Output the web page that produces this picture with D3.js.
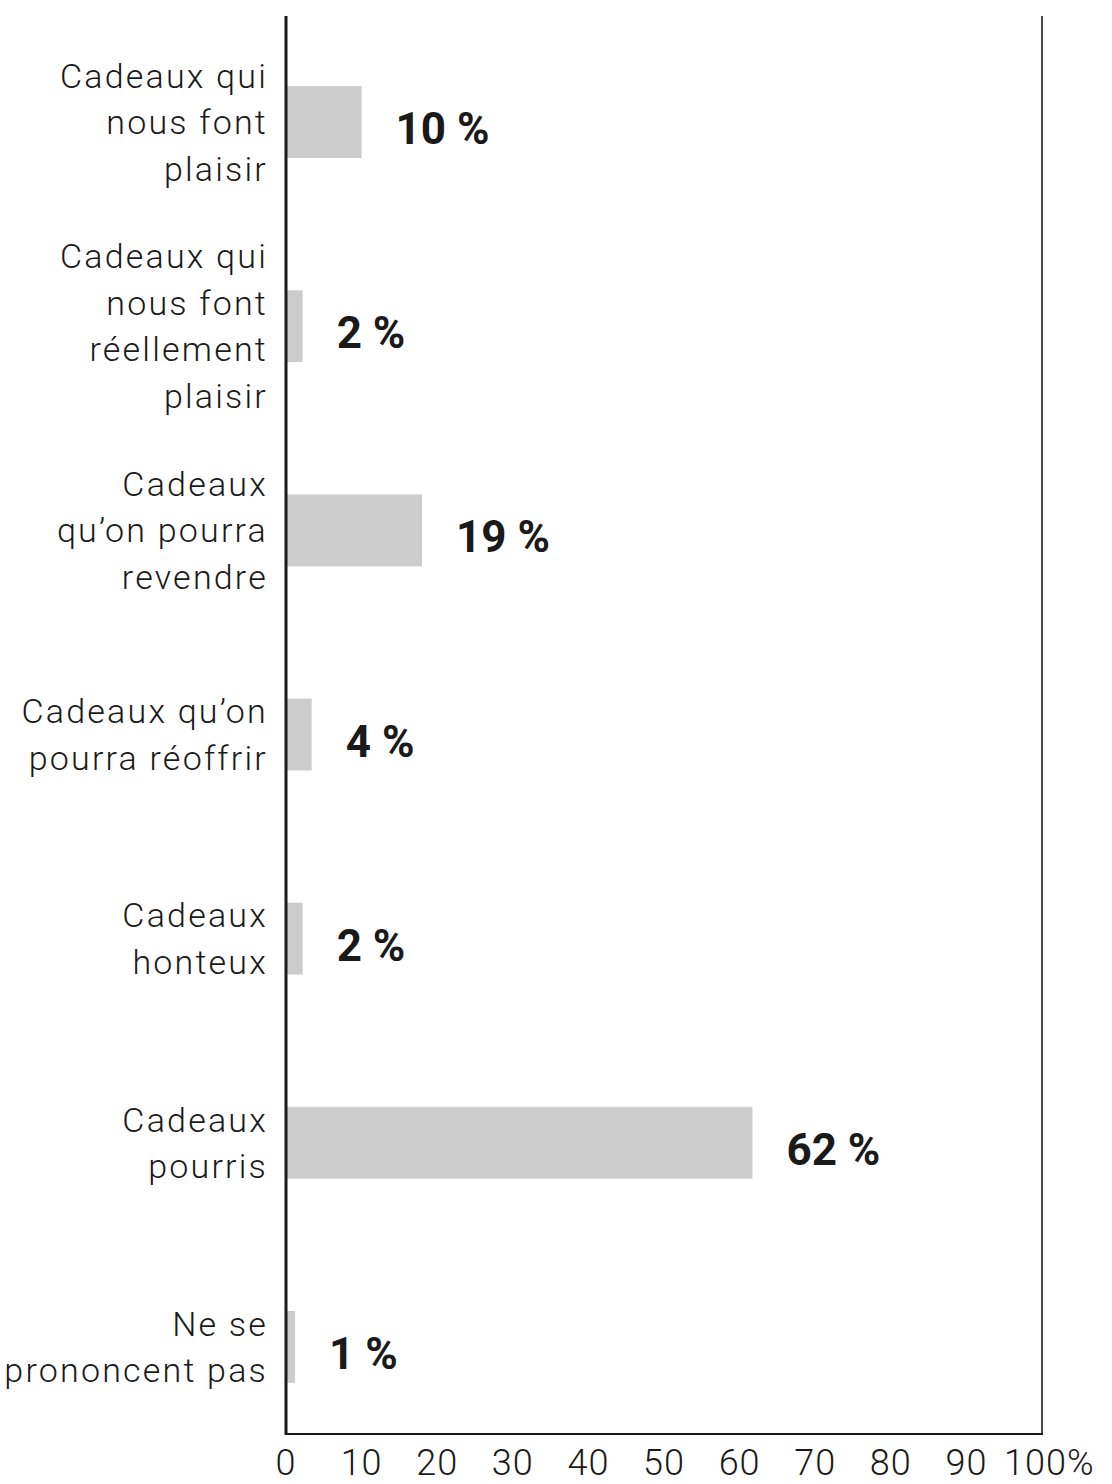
<!DOCTYPE html>
<html>
<head>
<meta charset="utf-8">
<script src="https://cdn.jsdelivr.net/npm/d3@7"></script>
<style>
  body { margin: 0; background: #fff; }
  text { fill: #1a1a1a; }
</style>
</head>
<body>
<div id="chart"></div>
<script>
// data
var categories = [
  ["Cadeaux qui", "nous font", "plaisir"],
  ["Cadeaux qui", "nous font", "réellement", "plaisir"],
  ["Cadeaux", "qu\u2019on pourra", "revendre"],
  ["Cadeaux qu\u2019on", "pourra réoffrir"],
  ["Cadeaux", "honteux"],
  ["Cadeaux", "pourris"],
  ["Ne se", "prononcent pas"]
];
// bar lengths as drawn in the picture
var values = [10, 2.2, 18, 3.4, 2.2, 61.7, 1.2];
// printed labels
var valueLabels = ["10 %", "2 %", "19 %", "4 %", "2 %", "62 %", "1 %"];
var ticks = [0, 10, 20, 30, 40, 50, 60, 70, 80, 90, 100];

var W = 1112, H = 1484;
var plotL = 286, plotR = 1042, plotT = 16, plotB = 1434;

var svg = d3.select("#chart").append("svg")
  .attr("width", W).attr("height", H);

var x = d3.scaleLinear().domain([0, 100]).range([plotL, plotR]);
var y = d3.scaleBand()
  .domain(d3.range(values.length))
  .range([20, 1449])
  .paddingInner(0.648)
  .paddingOuter(0.324);

// bars
svg.selectAll("rect.bar").data(values).enter().append("rect")
  .attr("class", "bar")
  .attr("x", x(0))
  .attr("y", function (d, i) { return y(i); })
  .attr("width", function (d) { return x(d) - x(0); })
  .attr("height", y.bandwidth())
  .attr("fill", "#cccccc");

// frame lines
svg.append("line").attr("x1", x(100)).attr("x2", x(100)).attr("y1", plotT).attr("y2", plotB)
  .attr("stroke", "#1a1a1a").attr("stroke-width", 1.6);
svg.append("line").attr("x1", plotL - 1).attr("x2", plotR + 1).attr("y1", plotB).attr("y2", plotB)
  .attr("stroke", "#1a1a1a").attr("stroke-width", 2);
svg.append("line").attr("x1", plotL).attr("x2", plotL).attr("y1", plotT).attr("y2", plotB + 1)
  .attr("stroke", "#1a1a1a").attr("stroke-width", 3);

// category labels, several lines each, right aligned
var lineH = 46.5;
svg.selectAll("text.cat").data(categories).enter().append("text")
  .attr("class", "cat")
  .attr("text-anchor", "end")
  .style("font-family", "Roboto, 'DejaVu Sans', sans-serif")
  .style("font-weight", 300)
  .style("font-size", "34px")
  .style("letter-spacing", "2.2px")
  .each(function (lines, i) {
    var cy = y(i) + y.bandwidth() / 2;
    var y0 = cy - (lines.length - 1) * lineH / 2 + 12;
    d3.select(this).selectAll("tspan").data(lines).enter().append("tspan")
      .attr("x", 268)
      .attr("y", function (l, j) { return y0 + j * lineH; })
      .text(function (l) { return l; });
  });

// value labels
svg.selectAll("text.val").data(values).enter().append("text")
  .attr("class", "val")
  .attr("x", function (d) { return x(d) + 34; })
  .attr("y", function (d, i) { return y(i) + y.bandwidth() / 2 + 22; })
  .style("font-family", "Roboto, 'DejaVu Sans', sans-serif")
  .style("font-weight", 700)
  .style("font-size", "44px")
  .text(function (d, i) { return valueLabels[i]; });

// x tick labels
svg.selectAll("text.tick").data(ticks).enter().append("text")
  .attr("class", "tick")
  .attr("x", function (d) { return d === 100 ? x(d) - 38 : x(d); })
  .attr("y", 1475)
  .attr("text-anchor", function (d) { return d === 100 ? "start" : "middle"; })
  .style("font-family", "Roboto, 'DejaVu Sans', sans-serif")
  .style("font-weight", 300)
  .style("font-size", "36px")
  .style("letter-spacing", "1px")
  .text(function (d) { return d === 100 ? "100%" : d; });
</script>
</body>
</html>
